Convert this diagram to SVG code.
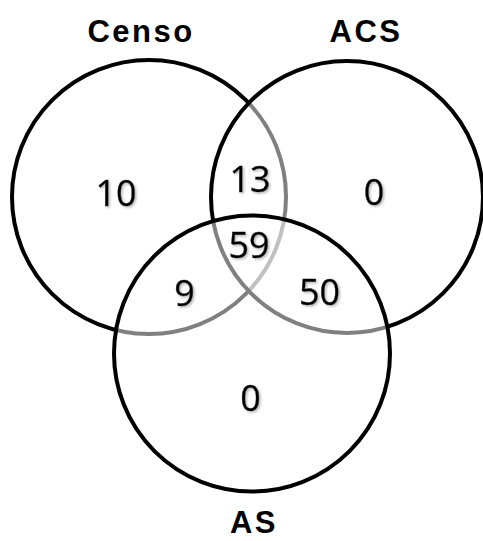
<svg xmlns="http://www.w3.org/2000/svg" width="483" height="541" viewBox="0 0 483 541">
  <style>
    .set { fill: #ffffff; fill-opacity: 0.5; stroke: #000000; stroke-width: 4; }
    .title { font-family: "Liberation Sans", Arial, sans-serif; font-weight: bold; font-size: 31px; letter-spacing: 2.5px; text-anchor: middle; fill: #000000; }
    .count { font-family: "Open Sans", "Liberation Sans", sans-serif; font-size: 36px; text-anchor: middle; fill: #000000; stroke: #000000; stroke-width: 0.4; filter: url(#shadow); }
  </style>
  <defs>
    <filter id="shadow" x="-20%" y="-20%" width="150%" height="150%">
      <feDropShadow dx="1.5" dy="1.5" stdDeviation="1" flood-color="#888888" flood-opacity="0.6"/>
    </filter>
  </defs>

  <!-- sets drawn in order; the translucent fill greys the strokes underneath -->
  <g id="set-censo">
    <circle class="set" cx="149" cy="197" r="137"/>
  </g>
  <g id="set-acs">
    <circle class="set" cx="347" cy="197" r="136"/>
  </g>
  <g id="set-as">
    <circle class="set" cx="252" cy="353.5" r="138"/>
  </g>

  <g id="labels">
    <text class="title" x="141" y="42">Censo</text>
    <text class="title" x="366" y="42">ACS</text>
    <text class="title" x="254" y="533">AS</text>
  </g>

  <g id="counts">
    <text class="count" x="116" y="206">10</text>
    <text class="count" x="250" y="192">13</text>
    <text class="count" x="374" y="205">0</text>
    <text class="count" x="249" y="258">59</text>
    <text class="count" x="184.5" y="306">9</text>
    <text class="count" x="319.5" y="305">50</text>
    <text class="count" x="250.5" y="411">0</text>
  </g>
</svg>
